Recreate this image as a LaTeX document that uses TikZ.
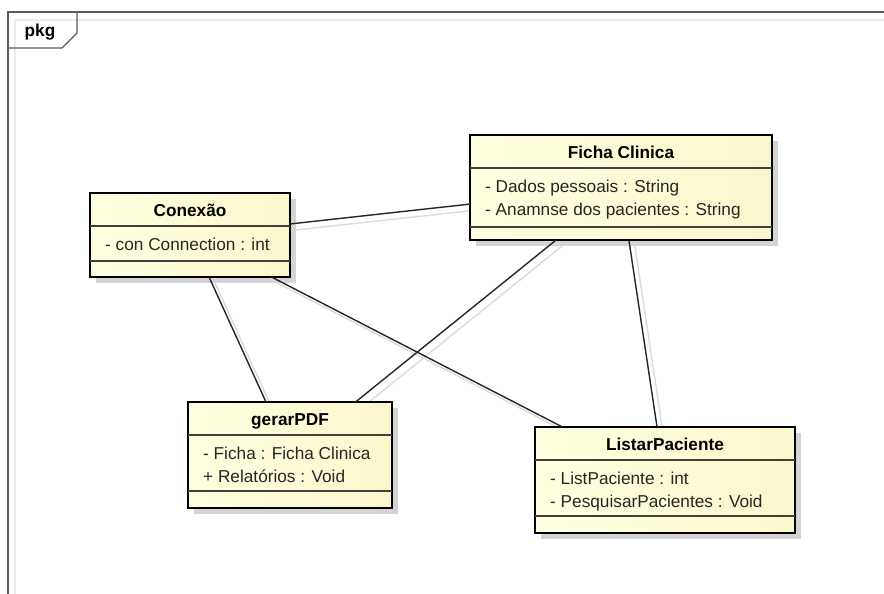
\documentclass[tikz,border=0pt]{standalone}
\usepackage{fontspec}
\setmainfont{Liberation Sans}
\usetikzlibrary{shadows,calc}
\pgfdeclarelayer{back}
\pgfdeclarelayer{bg}
\pgfsetlayers{back,bg,main}
\definecolor{boxL}{RGB}{255,255,224}
\definecolor{boxR}{RGB}{251,247,204}
\definecolor{frameC}{RGB}{90,90,90}
\begin{document}
\begin{tikzpicture}[x=1bp,y=-1bp,
  cls/.style={draw=black, line width=2.4bp, left color=boxL, right color=boxR, inner sep=0pt, outer sep=0pt,
    drop shadow={shadow xshift=6bp, shadow yshift=-6bp, fill=black!17, opacity=1}},
  sep/.style={draw=black!75, line width=1.2bp},
  ttl/.style={font=\bfseries\fontsize{17.3}{20}\selectfont, anchor=base, inner sep=0pt},
  attr/.style={font=\fontsize{17.3}{20}\selectfont, anchor=base west, inner sep=0pt, text=black!85},
  assoc/.style={draw=black!85, line width=1.4bp},
  assocsh/.style={draw=black!14, line width=1.4bp, transform canvas={shift={(6,6)}}}
]
\useasboundingbox (0,0) rectangle (884,594);
\clip (0,0) rectangle (884,594);
\begin{pgfonlayer}{back}
\fill[white] (0,0) rectangle (884,594);
\end{pgfonlayer}
% frame
\draw[black!8, line width=1.3bp] (15,620) -- (15,20) -- (900,20);
\draw[frameC, line width=1.3bp] (8,620) -- (8,12) -- (900,12);
\draw[frameC, line width=1.3bp] (8,48) -- (62,48) -- (77,33) -- (77,12);
\node[font=\bfseries\fontsize{17.3}{20}\selectfont, anchor=base, inner sep=0pt] (pkg) at (40,37) {pkg};

% classes
\node[cls, minimum width=200bp, minimum height=84bp] (conexao) at (190,235) {};
\draw[sep] ($(conexao.north west)+(0,33)$) -- ($(conexao.north east)+(0,33)$);
\draw[sep] ($(conexao.north west)+(0,68)$) -- ($(conexao.north east)+(0,68)$);
\node[ttl] (conexaoT) at ($(conexao.north)+(0,23.5)$) {Conexão};
\node[attr] (conexaoA) at ($(conexao.north west)+(15,58)$) {- con Connection : int};

\node[cls, minimum width=302bp, minimum height=105bp] (ficha) at (621,187.5) {};
\draw[sep] ($(ficha.north west)+(0,33)$) -- ($(ficha.north east)+(0,33)$);
\draw[sep] ($(ficha.north west)+(0,92)$) -- ($(ficha.north east)+(0,92)$);
\node[ttl] (fichaT) at ($(ficha.north)+(0,23.5)$) {Ficha Clinica};
\node[attr] (fichaA) at ($(ficha.north west)+(15,58)$) {- Dados pessoais : String};
\node[attr] (fichaB) at ($(ficha.north west)+(15,81)$) {- Anamnse dos pacientes : String};

\node[cls, minimum width=204bp, minimum height=106bp] (gerar) at (290,455) {};
\draw[sep] ($(gerar.north west)+(0,33)$) -- ($(gerar.north east)+(0,33)$);
\draw[sep] ($(gerar.north west)+(0,89)$) -- ($(gerar.north east)+(0,89)$);
\node[ttl] (gerarT) at ($(gerar.north)+(0,23.5)$) {gerarPDF};
\node[attr] (gerarA) at ($(gerar.north west)+(15,57.5)$) {- Ficha : Ficha Clinica};
\node[attr] (gerarB) at ($(gerar.north west)+(15,80.5)$) {+ Relatórios : Void};

\node[cls, minimum width=260bp, minimum height=106bp] (listar) at (665,480) {};
\draw[sep] ($(listar.north west)+(0,33)$) -- ($(listar.north east)+(0,33)$);
\draw[sep] ($(listar.north west)+(0,89)$) -- ($(listar.north east)+(0,89)$);
\node[ttl] (listarT) at ($(listar.north)+(0,23.5)$) {ListarPaciente};
\node[attr] (listarA) at ($(listar.north west)+(15,57.5)$) {- ListPaciente : int};
\node[attr] (listarB) at ($(listar.north west)+(15,80.5)$) {- PesquisarPacientes : Void};

% association shadows
\begin{pgfonlayer}{bg}
\draw[assocsh] (conexao) -- (ficha);
\draw[assocsh] (conexao) -- (gerar);
\draw[assocsh] (conexao) -- (listar);
\draw[assocsh] (ficha) -- (gerar);
\draw[assocsh] (ficha) -- (listar);
\end{pgfonlayer}
% associations
\draw[assoc] (conexao) -- (ficha);
\draw[assoc] (conexao) -- (gerar);
\draw[assoc] (conexao) -- (listar);
\draw[assoc] (ficha) -- (gerar);
\draw[assoc] (ficha) -- (listar);
\end{tikzpicture}
\end{document}
